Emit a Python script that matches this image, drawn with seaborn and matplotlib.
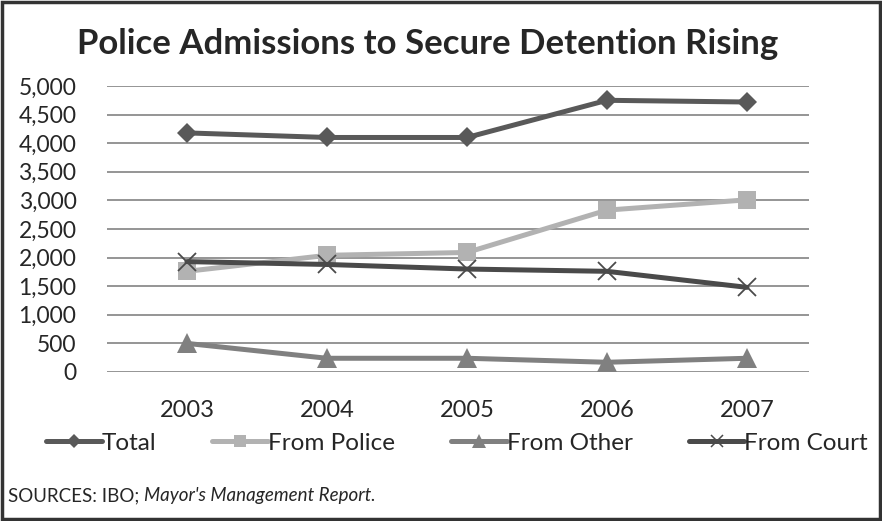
import pandas as pd
import matplotlib.pyplot as plt
import seaborn as sns
from matplotlib.patches import Rectangle

# valori
years = ['2003', '2004', '2005', '2006', '2007']
total = [4180, 4100, 4100, 4750, 4720]
from_police = [1760, 2040, 2090, 2830, 3010]
from_other = [500, 240, 240, 170, 240]
from_court = [1930, 1880, 1800, 1760, 1480]
series = ['Total', 'From Police', 'From Other', 'From Court']

df = pd.DataFrame({'year': years * 4,
                   'value': total + from_police + from_other + from_court,
                   'series': sum([[s] * 5 for s in series], [])})
df['x'] = df['year'].map({y: i for i, y in enumerate(years)})

sns.set_style('white')
plt.rcParams['font.family'] = ['Lato', 'DejaVu Sans']

colors = {'Total': '#595959', 'From Police': '#b2b2b2', 'From Other': '#808080', 'From Court': '#4a4a4a'}
markers = {'Total': 'D', 'From Police': 's', 'From Other': '^', 'From Court': 'x'}
msize = {'Total': 10, 'From Police': 13, 'From Other': 14, 'From Court': 13}

fig = plt.figure(figsize=(8.82, 5.21), dpi=100)
ax = fig.add_axes([107 / 882, 1 - 372 / 521, (809 - 107) / 882, (372 - 86) / 521])

for s in series:
    d = df[df['series'] == s]
    sns.lineplot(data=d, x='x', y='value', ax=ax, color=colors[s], linewidth=3.6,
                 marker=markers[s], markersize=msize[s], markeredgewidth=1.3 if s == 'From Court' else 0,
                 markeredgecolor=colors[s], label=s, legend=False)

ax.set_ylim(0, 5000)
ax.set_xlim(-0.571, 4.443)
ax.set_yticks(range(0, 5001, 500))
ax.set_yticklabels([f'{v:,}' for v in range(0, 5001, 500)], fontsize=16.5)
ax.set_xticks(range(5))
ax.set_xticklabels(years, fontsize=17)
ax.tick_params(axis='x', pad=20, length=0)
ax.tick_params(axis='y', pad=22, length=0)
ax.yaxis.grid(True, color='#8c8c8c', linewidth=1.3)
ax.set_axisbelow(True)
for sp in ax.spines.values():
    sp.set_visible(False)
ax.set_xlabel('')
ax.set_ylabel('')

# legenda
handles = [plt.Line2D([], [], color=colors[s], linewidth=3.6, marker=markers[s],
                      markersize=msize[s] * 0.7, markeredgewidth=1.1 if s == 'From Court' else 0,
                      markeredgecolor=colors[s]) for s in series]
fig.legend(handles, series, loc='center', bbox_to_anchor=(0.518, 1 - 443 / 521), ncol=4,
           frameon=False, fontsize=17.5, handlelength=2.3, handletextpad=0.0, columnspacing=2.3)

fig.text(0.485, 1 - 44 / 521, 'Police Admissions to Secure Detention Rising', ha='center', va='center',
         fontsize=25, fontweight='bold')
t = fig.text(8 / 882, 1 - 496 / 521, 'SOURCES: IBO; ', ha='left', va='center', fontsize=13.5)
fig.text(0, 0, "Mayor's Management Report.", fontsize=13.5, style='italic',
         ha='left', va='center', transform=None)
fig.canvas.draw()
bb = t.get_window_extent()
fig.texts[-1].set_position((bb.x1, (bb.y0 + bb.y1) / 2))

fig.patches.append(Rectangle((0.002, 0.003), 0.996, 0.994, transform=fig.transFigure,
                             fill=False, edgecolor='#333333', linewidth=2.5))

fig.savefig('out.png', dpi=100)
